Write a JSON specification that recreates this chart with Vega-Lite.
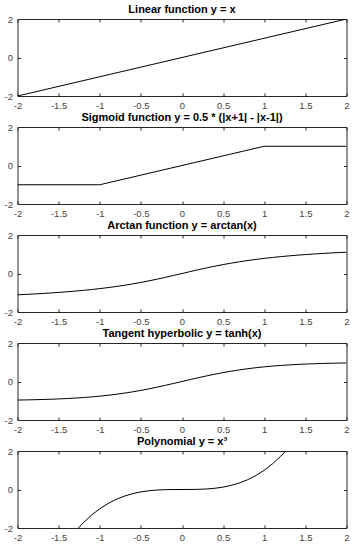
{
  "$schema": "https://vega.github.io/schema/vega-lite/v6.json",
  "padding": {"left": 3.5, "top": 4, "right": 2, "bottom": 2},
  "background": "white",
  "bounds": "flush",
  "spacing": 31,
  "config": {
    "view": {"stroke": null},
    "font": "Liberation Sans",
    "title": {"fontSize": 11, "fontWeight": "bold", "font": "Liberation Sans", "color": "black", "offset": -1, "anchor": "middle"},
    "axis": {
      "domainColor": "#262626", "domainWidth": 1,
      "tickColor": "#262626", "tickSize": -3, "tickWidth": 1,
      "labelColor": "#444444", "labelFont": "Liberation Sans", "labelFontSize": 9.5,
      "grid": false, "title": null, "labelFlush": false, "labelOverlap": false
    },
    "axisBottom": {"labelPadding": 7},
    "axisLeft": {"labelPadding": 8},
    "axisTop": {"minExtent": 0, "maxExtent": 0},
    "axisRight": {"minExtent": 0, "maxExtent": 0}
  },
  "vconcat": [
    {
      "title": "Linear function  y = x",
      "width": 329, "height": 77,
      "data": {"values": [{"x": -2, "y": -2}, {"x": 2, "y": 2}]},
      "layer": [
        {"mark": {"type": "line", "color": "black", "strokeWidth": 1, "clip": true},
         "encoding": {
           "x": {"field": "x", "type": "quantitative", "scale": {"domain": [-2, 2], "nice": false, "zero": false}, "axis": {"orient": "bottom", "values": [-2, -1.5, -1, -0.5, 0, 0.5, 1, 1.5, 2], "labelExpr": "'' + datum.value"}},
           "y": {"field": "y", "type": "quantitative", "scale": {"domain": [-2, 2], "nice": false, "zero": false}, "axis": {"orient": "left", "values": [-2, 0, 2], "labelExpr": "'' + datum.value"}}
         }},
        {"mark": {"type": "line", "strokeOpacity": 0},
         "encoding": {
           "x": {"field": "x", "type": "quantitative", "axis": {"orient": "top", "values": [-2, -1.5, -1, -0.5, 0, 0.5, 1, 1.5, 2], "labels": false}},
           "y": {"field": "y", "type": "quantitative", "axis": {"orient": "right", "values": [-2, 0, 2], "labels": false}}
         }}
      ],
      "resolve": {"axis": {"x": "independent", "y": "independent"}}
    },
    {
      "title": "Sigmoid function y = 0.5 * (|x+1| - |x-1|)",
      "width": 329, "height": 77,
      "data": {"values": [{"x": -2, "y": -1}, {"x": -1, "y": -1}, {"x": 1, "y": 1}, {"x": 2, "y": 1}]},
      "layer": [
        {"mark": {"type": "line", "color": "black", "strokeWidth": 1, "clip": true},
         "encoding": {
           "x": {"field": "x", "type": "quantitative", "scale": {"domain": [-2, 2], "nice": false, "zero": false}, "axis": {"orient": "bottom", "values": [-2, -1.5, -1, -0.5, 0, 0.5, 1, 1.5, 2], "labelExpr": "'' + datum.value"}},
           "y": {"field": "y", "type": "quantitative", "scale": {"domain": [-2, 2], "nice": false, "zero": false}, "axis": {"orient": "left", "values": [-2, 0, 2], "labelExpr": "'' + datum.value"}}
         }},
        {"mark": {"type": "line", "strokeOpacity": 0},
         "encoding": {
           "x": {"field": "x", "type": "quantitative", "axis": {"orient": "top", "values": [-2, -1.5, -1, -0.5, 0, 0.5, 1, 1.5, 2], "labels": false}},
           "y": {"field": "y", "type": "quantitative", "axis": {"orient": "right", "values": [-2, 0, 2], "labels": false}}
         }}
      ],
      "resolve": {"axis": {"x": "independent", "y": "independent"}}
    },
    {
      "title": "Arctan function  y = arctan(x)",
      "width": 329, "height": 77,
      "data": {"values": [
        {"x": -2, "y": -1.1071}, {"x": -1.9, "y": -1.0863}, {"x": -1.8, "y": -1.0637}, {"x": -1.7, "y": -1.0391}, {"x": -1.6, "y": -1.0122},
        {"x": -1.5, "y": -0.9828}, {"x": -1.4, "y": -0.9505}, {"x": -1.3, "y": -0.9151}, {"x": -1.2, "y": -0.8761}, {"x": -1.1, "y": -0.833},
        {"x": -1, "y": -0.7854}, {"x": -0.9, "y": -0.7328}, {"x": -0.8, "y": -0.6747}, {"x": -0.7, "y": -0.6107}, {"x": -0.6, "y": -0.5404},
        {"x": -0.5, "y": -0.4636}, {"x": -0.4, "y": -0.3805}, {"x": -0.3, "y": -0.2915}, {"x": -0.2, "y": -0.1974}, {"x": -0.1, "y": -0.0997},
        {"x": 0, "y": 0},
        {"x": 0.1, "y": 0.0997}, {"x": 0.2, "y": 0.1974}, {"x": 0.3, "y": 0.2915}, {"x": 0.4, "y": 0.3805}, {"x": 0.5, "y": 0.4636},
        {"x": 0.6, "y": 0.5404}, {"x": 0.7, "y": 0.6107}, {"x": 0.8, "y": 0.6747}, {"x": 0.9, "y": 0.7328}, {"x": 1, "y": 0.7854},
        {"x": 1.1, "y": 0.833}, {"x": 1.2, "y": 0.8761}, {"x": 1.3, "y": 0.9151}, {"x": 1.4, "y": 0.9505}, {"x": 1.5, "y": 0.9828},
        {"x": 1.6, "y": 1.0122}, {"x": 1.7, "y": 1.0391}, {"x": 1.8, "y": 1.0637}, {"x": 1.9, "y": 1.0863}, {"x": 2, "y": 1.1071}
      ]},
      "layer": [
        {"mark": {"type": "line", "color": "black", "strokeWidth": 1, "clip": true},
         "encoding": {
           "x": {"field": "x", "type": "quantitative", "scale": {"domain": [-2, 2], "nice": false, "zero": false}, "axis": {"orient": "bottom", "values": [-2, -1.5, -1, -0.5, 0, 0.5, 1, 1.5, 2], "labelExpr": "'' + datum.value"}},
           "y": {"field": "y", "type": "quantitative", "scale": {"domain": [-2, 2], "nice": false, "zero": false}, "axis": {"orient": "left", "values": [-2, 0, 2], "labelExpr": "'' + datum.value"}}
         }},
        {"mark": {"type": "line", "strokeOpacity": 0},
         "encoding": {
           "x": {"field": "x", "type": "quantitative", "axis": {"orient": "top", "values": [-2, -1.5, -1, -0.5, 0, 0.5, 1, 1.5, 2], "labels": false}},
           "y": {"field": "y", "type": "quantitative", "axis": {"orient": "right", "values": [-2, 0, 2], "labels": false}}
         }}
      ],
      "resolve": {"axis": {"x": "independent", "y": "independent"}}
    },
    {
      "title": "Tangent hyperbolic y = tanh(x)",
      "width": 329, "height": 77,
      "data": {"values": [
        {"x": -2, "y": -0.964}, {"x": -1.9, "y": -0.9562}, {"x": -1.8, "y": -0.9468}, {"x": -1.7, "y": -0.9354}, {"x": -1.6, "y": -0.9217},
        {"x": -1.5, "y": -0.9051}, {"x": -1.4, "y": -0.8854}, {"x": -1.3, "y": -0.8617}, {"x": -1.2, "y": -0.8337}, {"x": -1.1, "y": -0.8005},
        {"x": -1, "y": -0.7616}, {"x": -0.9, "y": -0.7163}, {"x": -0.8, "y": -0.664}, {"x": -0.7, "y": -0.6044}, {"x": -0.6, "y": -0.537},
        {"x": -0.5, "y": -0.4621}, {"x": -0.4, "y": -0.3799}, {"x": -0.3, "y": -0.2913}, {"x": -0.2, "y": -0.1974}, {"x": -0.1, "y": -0.0997},
        {"x": 0, "y": 0},
        {"x": 0.1, "y": 0.0997}, {"x": 0.2, "y": 0.1974}, {"x": 0.3, "y": 0.2913}, {"x": 0.4, "y": 0.3799}, {"x": 0.5, "y": 0.4621},
        {"x": 0.6, "y": 0.537}, {"x": 0.7, "y": 0.6044}, {"x": 0.8, "y": 0.664}, {"x": 0.9, "y": 0.7163}, {"x": 1, "y": 0.7616},
        {"x": 1.1, "y": 0.8005}, {"x": 1.2, "y": 0.8337}, {"x": 1.3, "y": 0.8617}, {"x": 1.4, "y": 0.8854}, {"x": 1.5, "y": 0.9051},
        {"x": 1.6, "y": 0.9217}, {"x": 1.7, "y": 0.9354}, {"x": 1.8, "y": 0.9468}, {"x": 1.9, "y": 0.9562}, {"x": 2, "y": 0.964}
      ]},
      "layer": [
        {"mark": {"type": "line", "color": "black", "strokeWidth": 1, "clip": true},
         "encoding": {
           "x": {"field": "x", "type": "quantitative", "scale": {"domain": [-2, 2], "nice": false, "zero": false}, "axis": {"orient": "bottom", "values": [-2, -1.5, -1, -0.5, 0, 0.5, 1, 1.5, 2], "labelExpr": "'' + datum.value"}},
           "y": {"field": "y", "type": "quantitative", "scale": {"domain": [-2, 2], "nice": false, "zero": false}, "axis": {"orient": "left", "values": [-2, 0, 2], "labelExpr": "'' + datum.value"}}
         }},
        {"mark": {"type": "line", "strokeOpacity": 0},
         "encoding": {
           "x": {"field": "x", "type": "quantitative", "axis": {"orient": "top", "values": [-2, -1.5, -1, -0.5, 0, 0.5, 1, 1.5, 2], "labels": false}},
           "y": {"field": "y", "type": "quantitative", "axis": {"orient": "right", "values": [-2, 0, 2], "labels": false}}
         }}
      ],
      "resolve": {"axis": {"x": "independent", "y": "independent"}}
    },
    {
      "title": "Polynomial y = x³",
      "width": 329, "height": 77,
      "data": {"values": [
        {"x": -1.26, "y": -2.0004}, {"x": -1.2, "y": -1.728}, {"x": -1.1, "y": -1.331}, {"x": -1, "y": -1}, {"x": -0.9, "y": -0.729},
        {"x": -0.8, "y": -0.512}, {"x": -0.7, "y": -0.343}, {"x": -0.6, "y": -0.216}, {"x": -0.5, "y": -0.125}, {"x": -0.4, "y": -0.064},
        {"x": -0.3, "y": -0.027}, {"x": -0.2, "y": -0.008}, {"x": -0.1, "y": -0.001}, {"x": 0, "y": 0},
        {"x": 0.1, "y": 0.001}, {"x": 0.2, "y": 0.008}, {"x": 0.3, "y": 0.027}, {"x": 0.4, "y": 0.064}, {"x": 0.5, "y": 0.125},
        {"x": 0.6, "y": 0.216}, {"x": 0.7, "y": 0.343}, {"x": 0.8, "y": 0.512}, {"x": 0.9, "y": 0.729}, {"x": 1, "y": 1},
        {"x": 1.1, "y": 1.331}, {"x": 1.2, "y": 1.728}, {"x": 1.26, "y": 2.0004}
      ]},
      "layer": [
        {"mark": {"type": "line", "color": "black", "strokeWidth": 1, "clip": true},
         "encoding": {
           "x": {"field": "x", "type": "quantitative", "scale": {"domain": [-2, 2], "nice": false, "zero": false}, "axis": {"orient": "bottom", "values": [-2, -1.5, -1, -0.5, 0, 0.5, 1, 1.5, 2], "labelExpr": "'' + datum.value"}},
           "y": {"field": "y", "type": "quantitative", "scale": {"domain": [-2, 2], "nice": false, "zero": false}, "axis": {"orient": "left", "values": [-2, 0, 2], "labelExpr": "'' + datum.value"}}
         }},
        {"mark": {"type": "line", "strokeOpacity": 0},
         "encoding": {
           "x": {"field": "x", "type": "quantitative", "axis": {"orient": "top", "values": [-2, -1.5, -1, -0.5, 0, 0.5, 1, 1.5, 2], "labels": false}},
           "y": {"field": "y", "type": "quantitative", "axis": {"orient": "right", "values": [-2, 0, 2], "labels": false}}
         }}
      ],
      "resolve": {"axis": {"x": "independent", "y": "independent"}}
    }
  ]
}
